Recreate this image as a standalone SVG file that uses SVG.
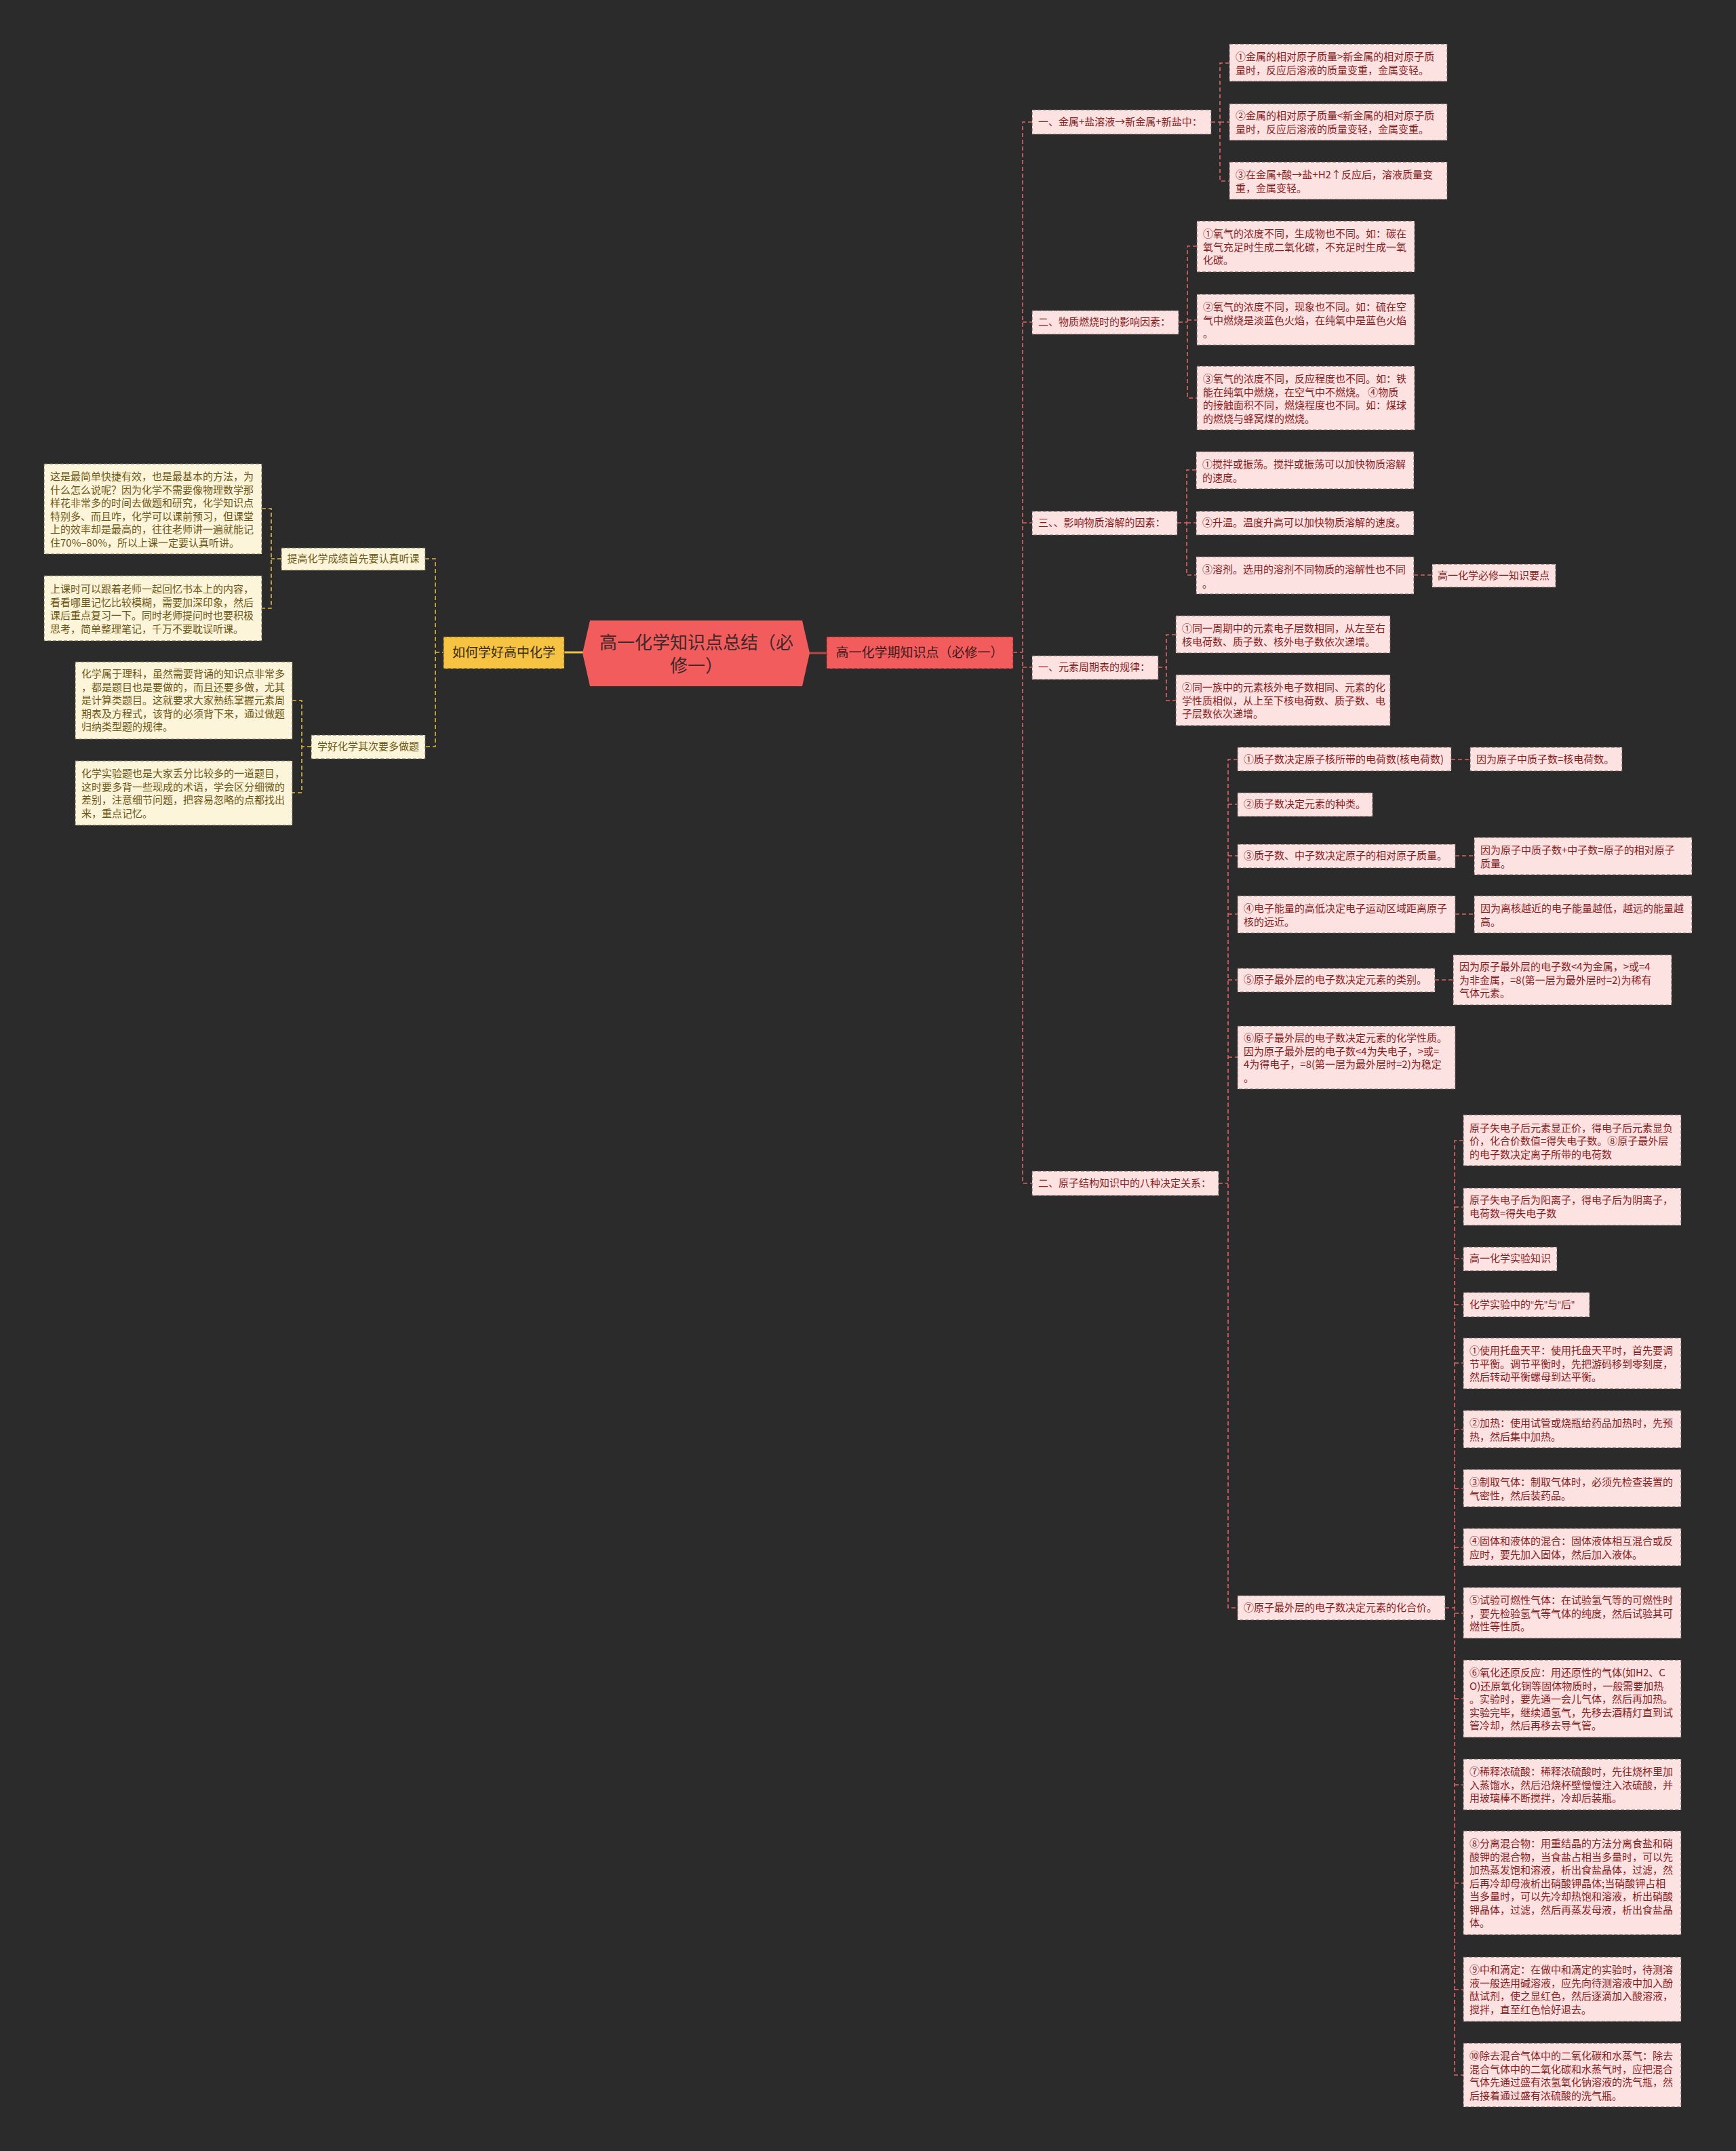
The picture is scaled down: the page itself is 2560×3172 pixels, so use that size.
<svg xmlns="http://www.w3.org/2000/svg" width="2560" height="3172" viewBox="0 0 2560 3172">
<style>
text{font-family:"Noto Sans CJK SC","Noto Sans",sans-serif;font-size:15px}
.pk{fill:#fde2e2;stroke:#6a5a5a;stroke-width:1;stroke-dasharray:5 3}
.pt{fill:#8a1c1c}
.yl{fill:#fdf5da;stroke:#6a6450;stroke-width:1;stroke-dasharray:5 3}
.yt{fill:#6e5714}
.cr{fill:none;stroke:#e06464;stroke-width:1.6;stroke-dasharray:6 4}
.cy{fill:none;stroke:#e2bb45;stroke-width:1.6;stroke-dasharray:6 4}
.lq{font-family:"Liberation Sans","Noto Sans",sans-serif}
</style>
<rect width="2560" height="3172" fill="#2b2b2b"/>

<g id="connectors">
  <path class="cy" d="M415 824H400M386 750H400V897H386"/>
  <path class="cy" d="M459 1101H445M431 1033H445V1169H431"/>
  <path class="cy" d="M627 824H642V1101H627M642 962H654"/>
  <path d="M832 962H862" stroke="#f0c040" stroke-width="3"/>
  <path d="M1193 963H1219" stroke="#b84646" stroke-width="3"/>
  <path class="cr" d="M1494 962H1508M1522 180H1508V1745H1522M1508 475H1522M1508 771H1522M1508 984H1522"/>
  <path class="cr" d="M1786 180H1799M1813 93H1799V267H1813M1799 180H1813"/>
  <path class="cr" d="M1738 475H1751M1765 363H1751V587H1765M1751 472H1765"/>
  <path class="cr" d="M1736 771H1750M1764 693H1750V848H1764M1750 771H1764M2085 848H2112"/>
  <path class="cr" d="M1708 984H1720M1734 936H1720V1033H1734"/>
  <path class="cr" d="M1797 1745H1811M1825 1120H1811V2371H1825M1811 1186H1825M1811 1262H1825M1811 1348H1825M1811 1445H1825M1811 1559H1825"/>
  <path class="cr" d="M2140 1120H2168M2146 1262H2174M2146 1348H2174M2116 1445H2143"/>
  <path class="cr" d="M2131 2371H2145M2158 1682H2145V3060H2158M2145 1780H2158M2145 1856H2158M2145 1924H2158M2145 2010H2158M2145 2108H2158M2145 2195H2158M2145 2282H2158M2145 2379H2158M2145 2505H2158M2145 2632H2158M2145 2777H2158M2145 2934H2158"/>
</g>

<g id="root">
  <polygon points="870,915 1183,915 1194,963 1183,1012 870,1012 859,963" fill="#f25c5c"/>
  <text x="1027" text-anchor="middle" fill="#3a2a2a" style="font-size:26px"><tspan x="1027" y="957">高一化学知识点总结（必</tspan><tspan x="1027" y="991">修一）</tspan></text>
</g>

<g id="left-main">
  <rect x="654" y="939" width="178" height="47" fill="#f6c343" stroke="#5a4a20" stroke-dasharray="5 3"/>
  <text x="743" y="969" text-anchor="middle" fill="#3a2c05" style="font-size:19px">如何学好高中化学</text>
</g>
<g id="left-1">
  <rect class="yl" x="415" y="808" width="212" height="33"/>
  <text class="yt" x="521" y="829" text-anchor="middle">提高化学成绩首先要认真听课</text>
</g>
<g id="left-1a">
  <rect class="yl" x="65" y="684" width="321" height="133"/>
  <text class="yt"><tspan x="74" y="708">这是最简单快捷有效，也是最基本的方法，为</tspan><tspan x="74" y="727.5">什么怎么说呢？因为化学不需要像物理数学那</tspan><tspan x="74" y="747">样花非常多的时间去做题和研究，化学知识点</tspan><tspan x="74" y="766.5">特别多、而且咋，化学可以课前预习，但课堂</tspan><tspan x="74" y="786">上的效率却是最高的，往往老师讲一遍就能记</tspan><tspan x="74" y="805.5">住70%–80%，所以上课一定要认真听讲。</tspan></text>
</g>
<g id="left-1b">
  <rect class="yl" x="65" y="849" width="321" height="96"/>
  <text class="yt"><tspan x="74" y="874">上课时可以跟着老师一起回忆书本上的内容，</tspan><tspan x="74" y="893.5">看看哪里记忆比较模糊，需要加深印象，然后</tspan><tspan x="74" y="913">课后重点复习一下。同时老师提问时也要积极</tspan><tspan x="74" y="932.5">思考，简单整理笔记，千万不要耽误听课。</tspan></text>
</g>
<g id="left-2">
  <rect class="yl" x="459" y="1084" width="168" height="35"/>
  <text class="yt" x="543" y="1106" text-anchor="middle">学好化学其次要多做题</text>
</g>
<g id="left-2a">
  <rect class="yl" x="111" y="976" width="320" height="114"/>
  <text class="yt"><tspan x="120" y="999">化学属于理科，虽然需要背诵的知识点非常多</tspan><tspan x="120" y="1018.5">，都是题目也是要做的，而且还要多做，尤其</tspan><tspan x="120" y="1038">是计算类题目。这就要求大家熟练掌握元素周</tspan><tspan x="120" y="1057.5">期表及方程式，该背的必须背下来，通过做题</tspan><tspan x="120" y="1077">归纳类型题的规律。</tspan></text>
</g>
<g id="left-2b">
  <rect class="yl" x="111" y="1122" width="320" height="95"/>
  <text class="yt"><tspan x="120" y="1146">化学实验题也是大家丢分比较多的一道题目，</tspan><tspan x="120" y="1165.5">这时要多背一些现成的术语，学会区分细微的</tspan><tspan x="120" y="1185">差别，注意细节问题，把容易忽略的点都找出</tspan><tspan x="120" y="1204.5">来，重点记忆。</tspan></text>
</g>

<g id="right-main">
  <rect x="1219" y="939" width="275" height="47" fill="#f25c5c" stroke="#6a2a2a" stroke-dasharray="5 3"/>
  <text x="1356" y="969" text-anchor="middle" fill="#3b1a1a" style="font-size:19px">高一化学期知识点（必修一）</text>
</g>

<g id="r1">
  <rect class="pk" x="1522" y="162" width="264" height="36"/>
  <text class="pt" x="1531" y="185">一、金属+盐溶液→新金属+新盐中：</text>
</g>
<g id="r1-1">
  <rect class="pk" x="1813" y="65" width="321" height="55"/>
  <text class="pt"><tspan x="1822" y="89">①金属的相对原子质量&gt;新金属的相对原子质</tspan><tspan x="1822" y="108.5">量时，反应后溶液的质量变重，金属变轻。</tspan></text>
</g>
<g id="r1-2">
  <rect class="pk" x="1813" y="153" width="321" height="54"/>
  <text class="pt"><tspan x="1822" y="176">②金属的相对原子质量&lt;新金属的相对原子质</tspan><tspan x="1822" y="195.5">量时，反应后溶液的质量变轻，金属变重。</tspan></text>
</g>
<g id="r1-3">
  <rect class="pk" x="1813" y="239" width="321" height="55"/>
  <text class="pt"><tspan x="1822" y="263">③在金属+酸→盐+H2↑反应后，溶液质量变</tspan><tspan x="1822" y="282.5">重，金属变轻。</tspan></text>
</g>

<g id="r2">
  <rect class="pk" x="1522" y="458" width="216" height="35"/>
  <text class="pt" x="1531" y="480">二、物质燃烧时的影响因素：</text>
</g>
<g id="r2-1">
  <rect class="pk" x="1765" y="326" width="321" height="75"/>
  <text class="pt"><tspan x="1774" y="350">①氧气的浓度不同，生成物也不同。如：碳在</tspan><tspan x="1774" y="369.5">氧气充足时生成二氧化碳，不充足时生成一氧</tspan><tspan x="1774" y="389">化碳。</tspan></text>
</g>
<g id="r2-2">
  <rect class="pk" x="1765" y="434" width="321" height="75"/>
  <text class="pt"><tspan x="1774" y="458">②氧气的浓度不同，现象也不同。如：硫在空</tspan><tspan x="1774" y="477.5">气中燃烧是淡蓝色火焰，在纯氧中是蓝色火焰</tspan><tspan x="1774" y="497">。</tspan></text>
</g>
<g id="r2-3">
  <rect class="pk" x="1765" y="540" width="321" height="94"/>
  <text class="pt"><tspan x="1774" y="564">③氧气的浓度不同，反应程度也不同。如：铁</tspan><tspan x="1774" y="583.5">能在纯氧中燃烧，在空气中不燃烧。 ④物质</tspan><tspan x="1774" y="603">的接触面积不同，燃烧程度也不同。如：煤球</tspan><tspan x="1774" y="622.5">的燃烧与蜂窝煤的燃烧。</tspan></text>
</g>

<g id="r3">
  <rect class="pk" x="1522" y="754" width="214" height="35"/>
  <text class="pt" x="1531" y="776">三、、影响物质溶解的因素：</text>
</g>
<g id="r3-1">
  <rect class="pk" x="1764" y="666" width="321" height="55"/>
  <text class="pt"><tspan x="1773" y="690">①搅拌或振荡。搅拌或振荡可以加快物质溶解</tspan><tspan x="1773" y="709.5">的速度。</tspan></text>
</g>
<g id="r3-2">
  <rect class="pk" x="1764" y="754" width="321" height="35"/>
  <text class="pt" x="1773" y="776">②升温。温度升高可以加快物质溶解的速度。</text>
</g>
<g id="r3-3">
  <rect class="pk" x="1764" y="821" width="321" height="55"/>
  <text class="pt"><tspan x="1773" y="845">③溶剂。选用的溶剂不同物质的溶解性也不同</tspan><tspan x="1773" y="865.5">。</tspan></text>
</g>
<g id="r3-3a">
  <rect class="pk" x="2112" y="832" width="182" height="34"/>
  <text class="pt" x="2120" y="854">高一化学必修一知识要点</text>
</g>

<g id="r4">
  <rect class="pk" x="1522" y="967" width="186" height="35"/>
  <text class="pt" x="1531" y="989">一、元素周期表的规律：</text>
</g>
<g id="r4-1">
  <rect class="pk" x="1734" y="908" width="316" height="55"/>
  <text class="pt"><tspan x="1743" y="932">①同一周期中的元素电子层数相同，从左至右</tspan><tspan x="1743" y="951.5">核电荷数、质子数、核外电子数依次递增。</tspan></text>
</g>
<g id="r4-2">
  <rect class="pk" x="1734" y="995" width="316" height="75"/>
  <text class="pt"><tspan x="1743" y="1019">②同一族中的元素核外电子数相同、元素的化</tspan><tspan x="1743" y="1038.5">学性质相似，从上至下核电荷数、质子数、电</tspan><tspan x="1743" y="1058">子层数依次递增。</tspan></text>
</g>

<g id="r5">
  <rect class="pk" x="1522" y="1727" width="275" height="36"/>
  <text class="pt" x="1531" y="1750">二、原子结构知识中的八种决定关系：</text>
</g>
<g id="r5-1">
  <rect class="pk" x="1825" y="1102" width="315" height="35"/>
  <text class="pt" x="1834" y="1125">①质子数决定原子核所带的电荷数(核电荷数)</text>
</g>
<g id="r5-1a">
  <rect class="pk" x="2168" y="1102" width="224" height="35"/>
  <text class="pt" x="2177" y="1125">因为原子中质子数=核电荷数。</text>
</g>
<g id="r5-2">
  <rect class="pk" x="1825" y="1169" width="199" height="35"/>
  <text class="pt" x="1834" y="1191">②质子数决定元素的种类。</text>
</g>
<g id="r5-3">
  <rect class="pk" x="1825" y="1245" width="321" height="35"/>
  <text class="pt" x="1834" y="1267">③质子数、中子数决定原子的相对原子质量。</text>
</g>
<g id="r5-3a">
  <rect class="pk" x="2174" y="1235" width="321" height="55"/>
  <text class="pt"><tspan x="2183" y="1259">因为原子中质子数+中子数=原子的相对原子</tspan><tspan x="2183" y="1278.5">质量。</tspan></text>
</g>
<g id="r5-4">
  <rect class="pk" x="1825" y="1321" width="321" height="55"/>
  <text class="pt"><tspan x="1834" y="1345">④电子能量的高低决定电子运动区域距离原子</tspan><tspan x="1834" y="1364.5">核的远近。</tspan></text>
</g>
<g id="r5-4a">
  <rect class="pk" x="2174" y="1321" width="321" height="55"/>
  <text class="pt"><tspan x="2183" y="1345">因为离核越近的电子能量越低，越远的能量越</tspan><tspan x="2183" y="1364.5">高。</tspan></text>
</g>
<g id="r5-5">
  <rect class="pk" x="1825" y="1428" width="291" height="35"/>
  <text class="pt" x="1834" y="1450">⑤原子最外层的电子数决定元素的类别。</text>
</g>
<g id="r5-5a">
  <rect class="pk" x="2143" y="1408" width="322" height="74"/>
  <text class="pt"><tspan x="2152" y="1431">因为原子最外层的电子数&lt;4为金属，&gt;或=4</tspan><tspan x="2152" y="1450.5">为非金属，=8(第一层为最外层时=2)为稀有</tspan><tspan x="2152" y="1470">气体元素。</tspan></text>
</g>
<g id="r5-6">
  <rect class="pk" x="1825" y="1513" width="321" height="93"/>
  <text class="pt"><tspan x="1834" y="1536">⑥原子最外层的电子数决定元素的化学性质。</tspan><tspan x="1834" y="1555.5">因为原子最外层的电子数&lt;4为失电子，&gt;或=</tspan><tspan x="1834" y="1575">4为得电子，=8(第一层为最外层时=2)为稳定</tspan><tspan x="1834" y="1594.5">。</tspan></text>
</g>
<g id="r5-7">
  <rect class="pk" x="1825" y="2353" width="306" height="36"/>
  <text class="pt" x="1834" y="2376">⑦原子最外层的电子数决定元素的化合价。</text>
</g>

<g id="c1">
  <rect class="pk" x="2158" y="1644" width="321" height="75"/>
  <text class="pt"><tspan x="2167" y="1668.5">原子失电子后元素显正价，得电子后元素显负</tspan><tspan x="2167" y="1688">价，化合价数值=得失电子数。⑧原子最外层</tspan><tspan x="2167" y="1707.5">的电子数决定离子所带的电荷数</tspan></text>
</g>
<g id="c2">
  <rect class="pk" x="2158" y="1752" width="321" height="55"/>
  <text class="pt"><tspan x="2167" y="1775">原子失电子后为阳离子，得电子后为阴离子，</tspan><tspan x="2167" y="1794.5">电荷数=得失电子数</tspan></text>
</g>
<g id="c3">
  <rect class="pk" x="2158" y="1839" width="138" height="35"/>
  <text class="pt" x="2167" y="1861">高一化学实验知识</text>
</g>
<g id="c4">
  <rect class="pk" x="2158" y="1906" width="186" height="36"/>
  <text class="pt" x="2167" y="1929">化学实验中的<tspan class="lq">“</tspan>先<tspan class="lq">”</tspan>与<tspan class="lq">“</tspan>后<tspan class="lq">”</tspan></text>
</g>
<g id="c5">
  <rect class="pk" x="2158" y="1973" width="321" height="75"/>
  <text class="pt"><tspan x="2167" y="1997">①使用托盘天平：使用托盘天平时，首先要调</tspan><tspan x="2167" y="2016.5">节平衡。调节平衡时，先把游码移到零刻度，</tspan><tspan x="2167" y="2036">然后转动平衡螺母到达平衡。</tspan></text>
</g>
<g id="c6">
  <rect class="pk" x="2158" y="2080" width="321" height="55"/>
  <text class="pt"><tspan x="2167" y="2104">②加热：使用试管或烧瓶给药品加热时，先预</tspan><tspan x="2167" y="2123.5">热，然后集中加热。</tspan></text>
</g>
<g id="c7">
  <rect class="pk" x="2158" y="2167" width="321" height="55"/>
  <text class="pt"><tspan x="2167" y="2191">③制取气体：制取气体时，必须先检查装置的</tspan><tspan x="2167" y="2210.5">气密性，然后装药品。</tspan></text>
</g>
<g id="c8">
  <rect class="pk" x="2158" y="2254" width="321" height="55"/>
  <text class="pt"><tspan x="2167" y="2278">④固体和液体的混合：固体液体相互混合或反</tspan><tspan x="2167" y="2297.5">应时，要先加入固体，然后加入液体。</tspan></text>
</g>
<g id="c9">
  <rect class="pk" x="2158" y="2341" width="321" height="75"/>
  <text class="pt"><tspan x="2167" y="2365">⑤试验可燃性气体：在试验氢气等的可燃性时</tspan><tspan x="2167" y="2384.5">，要先检验氢气等气体的纯度，然后试验其可</tspan><tspan x="2167" y="2404">燃性等性质。</tspan></text>
</g>
<g id="c10">
  <rect class="pk" x="2158" y="2448" width="321" height="114"/>
  <text class="pt"><tspan x="2167" y="2472">⑥氧化还原反应：用还原性的气体(如H2、C</tspan><tspan x="2167" y="2491.5">O)还原氧化铜等固体物质时，一般需要加热</tspan><tspan x="2167" y="2511">。实验时，要先通一会儿气体，然后再加热。</tspan><tspan x="2167" y="2530.5">实验完毕，继续通氢气，先移去酒精灯直到试</tspan><tspan x="2167" y="2550">管冷却，然后再移去导气管。</tspan></text>
</g>
<g id="c11">
  <rect class="pk" x="2158" y="2594" width="321" height="75"/>
  <text class="pt"><tspan x="2167" y="2618">⑦稀释浓硫酸：稀释浓硫酸时，先往烧杯里加</tspan><tspan x="2167" y="2637.5">入蒸馏水，然后沿烧杯壁慢慢注入浓硫酸，并</tspan><tspan x="2167" y="2657">用玻璃棒不断搅拌，冷却后装瓶。</tspan></text>
</g>
<g id="c12">
  <rect class="pk" x="2158" y="2700" width="321" height="153"/>
  <text class="pt"><tspan x="2167" y="2724">⑧分离混合物：用重结晶的方法分离食盐和硝</tspan><tspan x="2167" y="2743.5">酸钾的混合物，当食盐占相当多量时，可以先</tspan><tspan x="2167" y="2763">加热蒸发饱和溶液，析出食盐晶体，过滤，然</tspan><tspan x="2167" y="2782.5">后再冷却母液析出硝酸钾晶体;当硝酸钾占相</tspan><tspan x="2167" y="2802">当多量时，可以先冷却热饱和溶液，析出硝酸</tspan><tspan x="2167" y="2821.5">钾晶体，过滤，然后再蒸发母液，析出食盐晶</tspan><tspan x="2167" y="2841">体。</tspan></text>
</g>
<g id="c13">
  <rect class="pk" x="2158" y="2886" width="321" height="95"/>
  <text class="pt"><tspan x="2167" y="2910">⑨中和滴定：在做中和滴定的实验时，待测溶</tspan><tspan x="2167" y="2929.5">液一般选用碱溶液，应先向待测溶液中加入酚</tspan><tspan x="2167" y="2949">酞试剂，使之显红色，然后逐滴加入酸溶液，</tspan><tspan x="2167" y="2968.5">搅拌，直至红色恰好退去。</tspan></text>
</g>
<g id="c14">
  <rect class="pk" x="2158" y="3013" width="321" height="94"/>
  <text class="pt"><tspan x="2167" y="3037">⑩除去混合气体中的二氧化碳和水蒸气：除去</tspan><tspan x="2167" y="3056.5">混合气体中的二氧化碳和水蒸气时，应把混合</tspan><tspan x="2167" y="3076">气体先通过盛有浓氢氧化钠溶液的洗气瓶，然</tspan><tspan x="2167" y="3095.5">后接着通过盛有浓硫酸的洗气瓶。</tspan></text>
</g>
</svg>
